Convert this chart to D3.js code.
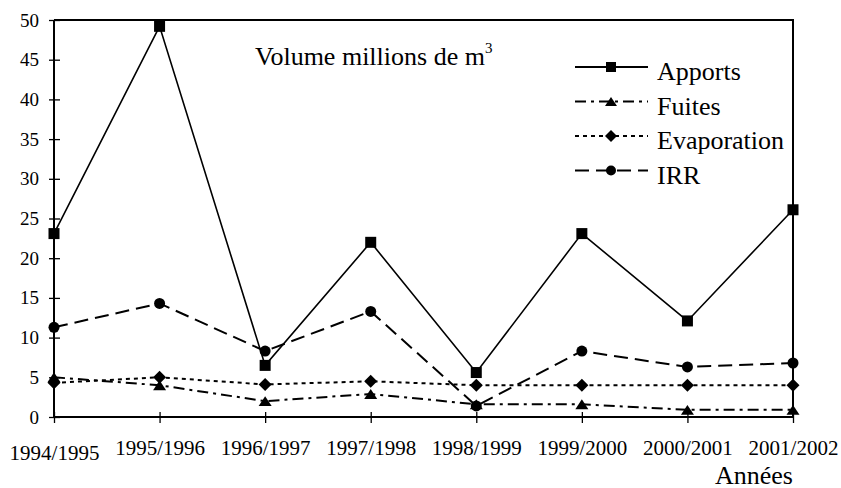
<!DOCTYPE html>
<html>
<head>
<meta charset="utf-8">
<script src="https://cdn.jsdelivr.net/npm/d3@7"></script>
<style>
  body { margin: 0; background: #fff; }
  svg { display: block; }
</style>
</head>
<body>
<svg width="841" height="488"></svg>
<script>
// values (millions de m3)
var years = ["1994/1995", "1995/1996", "1996/1997", "1997/1998", "1998/1999", "1999/2000", "2000/2001", "2001/2002"];
var apports = [23.1, 49.2, 6.5, 22.0, 5.6, 23.1, 12.1, 26.1];
var fuites = [5.0, 4.0, 2.0, 2.9, 1.6, 1.6, 0.9, 0.9];
var evaporation = [4.3, 5.0, 4.1, 4.5, 4.0, 4.0, 4.0, 4.0];
var irr = [11.3, 14.3, 8.3, 13.3, 1.4, 8.3, 6.3, 6.8];
var yTicks = [0, 5, 10, 15, 20, 25, 30, 35, 40, 45, 50];

var series = [
  {name: "Apports", values: apports, dash: null, marker: "square"},
  {name: "Fuites", values: fuites, dash: "11,5,3,5", marker: "triangle"},
  {name: "Evaporation", values: evaporation, dash: "4,4", marker: "diamond"},
  {name: "IRR", values: irr, dash: "14,7", marker: "circle"}
];

var FONT = "'Liberation Serif', 'Times New Roman', serif";
var svg = d3.select("svg");
// note: "top" is reserved on window, so use plot* names
var plotL = 54, plotR = 793, plotT = 20, plotB = 417;

var x = d3.scalePoint().domain(years).range([plotL, plotR]).padding(0);
var y = d3.scaleLinear().domain([0, 50]).range([plotB, plotT]);

// frame (top + right edges)
svg.append("path")
  .attr("d", "M" + plotL + "," + plotT + "H" + plotR + "V" + plotB)
  .attr("fill", "none").attr("stroke", "#000").attr("stroke-width", 2);

// y axis
var yAxis = svg.append("g")
  .attr("transform", "translate(" + plotL + ",0)")
  .call(d3.axisLeft(y).tickValues(yTicks).tickSize(5).tickPadding(10));
yAxis.attr("font-family", FONT);
yAxis.select(".domain").attr("stroke-width", 2).attr("d", "M0," + plotB + "V" + plotT);
yAxis.selectAll(".tick line").attr("x1", 6).attr("stroke-width", 1.3);
yAxis.selectAll("text").attr("font-size", 19).attr("font-family", FONT).attr("fill", "#000");

// x axis
var xAxis = svg.append("g")
  .attr("transform", "translate(0," + plotB + ")")
  .call(d3.axisBottom(x).tickSize(6).tickPadding(16));
xAxis.attr("font-family", FONT);
xAxis.select(".domain").attr("stroke-width", 2).attr("d", "M" + plotL + ",0H" + plotR);
xAxis.selectAll(".tick line").attr("y1", -5).attr("stroke-width", 1.3);
xAxis.selectAll("text")
  .attr("font-size", 21).attr("font-family", FONT).attr("fill", "#000")
  .attr("dy", function(d, i) { return i === 0 ? "1.0em" : "0.76em"; });

function drawMarker(g, type, cx, cy, s) {
  if (type === "square") {
    g.append("rect").attr("x", cx - s / 2).attr("y", cy - s / 2).attr("width", s).attr("height", s).attr("fill", "#000");
  } else if (type === "circle") {
    g.append("circle").attr("cx", cx).attr("cy", cy).attr("r", s / 2).attr("fill", "#000");
  } else if (type === "triangle") {
    var h = s * 0.9;
    g.append("path").attr("d", "M" + cx + "," + (cy - h / 2) + "L" + (cx + s / 2 + 1) + "," + (cy + h / 2) + "L" + (cx - s / 2 - 1) + "," + (cy + h / 2) + "Z").attr("fill", "#000");
  } else if (type === "diamond") {
    var r = s / 2 + 1;
    g.append("path").attr("d", "M" + cx + "," + (cy - r) + "L" + (cx + r) + "," + cy + "L" + cx + "," + (cy + r) + "L" + (cx - r) + "," + cy + "Z").attr("fill", "#000");
  }
}

var line = d3.line()
  .x(function(d, i) { return x(years[i]); })
  .y(function(d) { return y(d); });

var plot = svg.append("g");
series.forEach(function(s) {
  plot.append("path")
    .datum(s.values)
    .attr("d", line)
    .attr("fill", "none")
    .attr("stroke", "#000")
    .attr("stroke-width", s.dash ? 2 : 1.6)
    .attr("stroke-dasharray", s.dash);
});
series.forEach(function(s) {
  var mg = plot.append("g");
  s.values.forEach(function(v, i) {
    drawMarker(mg, s.marker, x(years[i]), y(v), 11);
  });
});

// title
var title = svg.append("text")
  .attr("x", 255).attr("y", 65)
  .attr("font-family", FONT)
  .attr("font-size", 26).attr("fill", "#000");
title.append("tspan").text("Volume millions de m");
title.append("tspan").attr("font-size", 15).attr("dy", -12).text("3");

// legend
var legend = svg.append("g").attr("transform", "translate(575,67)");
series.forEach(function(s, i) {
  var row = legend.append("g").attr("transform", "translate(0," + (i * 34.5) + ")");
  row.append("line")
    .attr("x1", 0).attr("x2", 73).attr("y1", 0).attr("y2", 0)
    .attr("stroke", "#000").attr("stroke-width", 2)
    .attr("stroke-dasharray", s.dash);
  drawMarker(row, s.marker, 36, 0, 10);
  row.append("text")
    .attr("x", 82).attr("y", 13)
    .attr("font-family", FONT)
    .attr("font-size", 26).attr("fill", "#000")
    .text(s.name);
});

// x axis title
svg.append("text")
  .attr("x", plotR).attr("y", 484)
  .attr("text-anchor", "end")
  .attr("font-family", FONT)
  .attr("font-size", 26).attr("fill", "#000")
  .text("Années");
</script>
</body>
</html>
